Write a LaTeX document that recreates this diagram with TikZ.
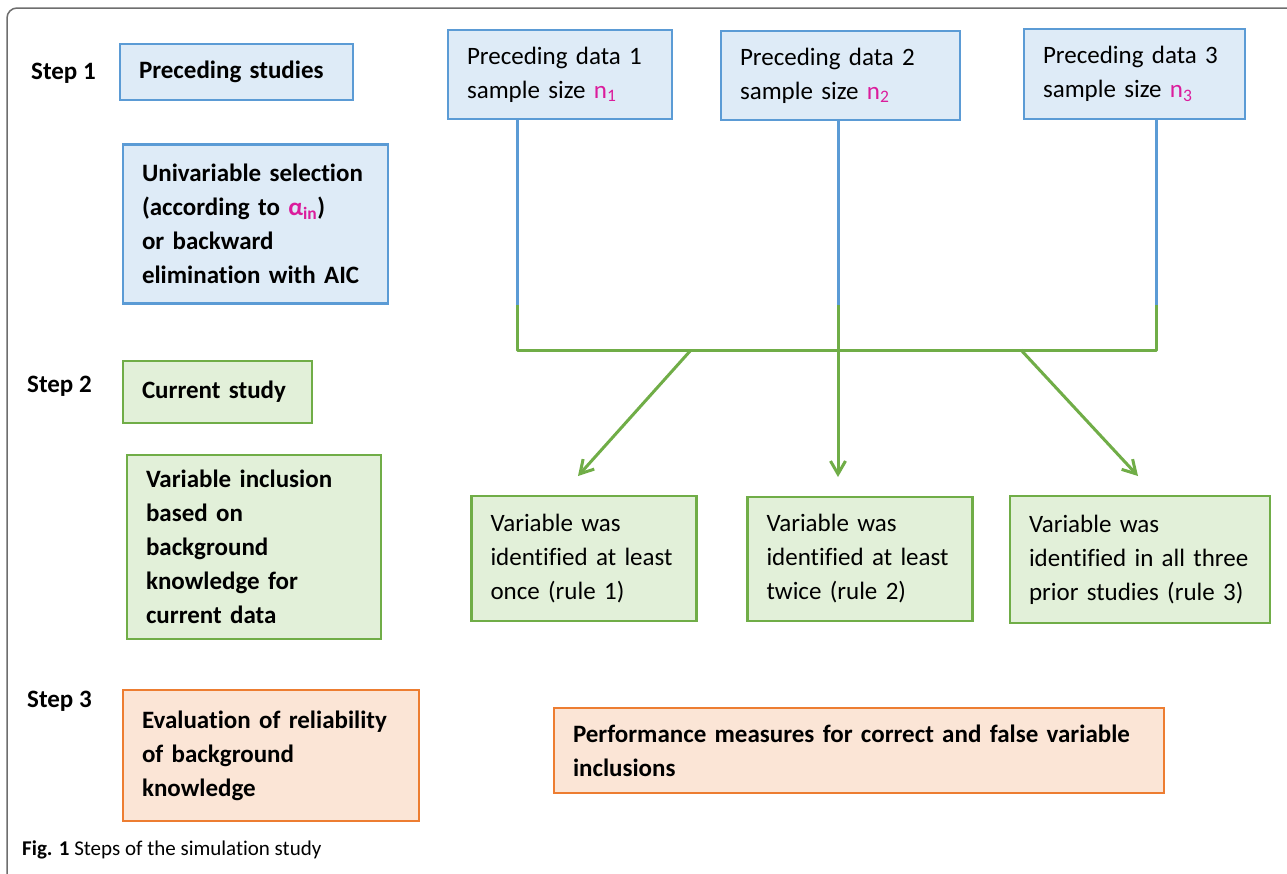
\documentclass[tikz,border=0pt]{standalone}
\usepackage{fontspec}
\setmainfont{Carlito}[Ligatures={NoCommon,NoRare}]
\usetikzlibrary{arrows.meta}
\definecolor{bfill}{HTML}{DEEBF7}
\definecolor{bline}{HTML}{5B9BD5}
\definecolor{gfill}{HTML}{E2F0D9}
\definecolor{gline}{HTML}{70AD47}
\definecolor{ofill}{HTML}{FBE5D6}
\definecolor{oline}{HTML}{ED7D31}
\definecolor{mag}{HTML}{DB1C9C}
\definecolor{framec}{HTML}{6E6E6E}
\newcommand{\mg}[2]{\textcolor{mag}{#1\textsubscript{#2}}}
\begin{document}
\begin{tikzpicture}[x=1pt,y=-1pt,
  every node/.style={inner ysep=0pt},
  boxbase/.style={draw, line width=2.2pt, inner xsep=19pt, align=left,
    font=\fontsize{25}{34}\selectfont},
  bluebox/.style={boxbase, draw=bline, fill=bfill},
  greenbox/.style={boxbase, draw=gline, fill=gfill},
  orangebox/.style={boxbase, draw=oline, fill=ofill},
  boldtxt/.style={font=\fontsize{25}{34}\selectfont\bfseries},
  steplabel/.style={anchor=west, inner sep=0pt, font=\fontsize{25}{28}\selectfont\bfseries},
  bline/.style={draw=bline, line width=3pt},
  gconn/.style={draw=gline, line width=3pt},
  garrow/.style={draw=gline, line width=3pt, -{Straight Barb[length=13pt,width=15pt,line width=3pt]}}
]
\useasboundingbox (0,0) rectangle (1287,873);
\fill[white] (0,0) rectangle (1287,873);
\draw[framec, line width=1.5pt, rounded corners=10pt] (7,8) rectangle (1320,910);

% step labels
\node[steplabel] (s1) at (31,73) {Step 1};
\node[steplabel] (s2) at (27,386) {Step 2};
\node[steplabel] (s3) at (27,701) {Step 3};

% left column
\node[bluebox, boldtxt, minimum width=233pt, minimum height=56pt, text width=195pt] (ps) at (236.5,72) {Preceding studies};
\node[bluebox, boldtxt, minimum width=265pt, minimum height=159pt, text width=227pt] (uni) at (255.5,224)
  {Univariable selection\\(according to \mg{α}{in})\\or backward\\elimination with AIC};
\node[greenbox, boldtxt, minimum width=189pt, minimum height=62pt, text width=151pt] (cur) at (217.5,392) {Current study};
\node[greenbox, boldtxt, minimum width=254pt, minimum height=184pt, text width=216pt] (vinc) at (254,547)
  {Variable inclusion\\based on\\background\\knowledge for\\current data};
\node[orangebox, boldtxt, minimum width=296pt, minimum height=131pt, text width=258pt] (ev) at (271,755.5)
  {Evaluation of reliability\\of background\\knowledge};

% preceding data
\node[bluebox, minimum width=224pt, minimum height=89pt, text width=186pt] (pd1) at (560,74.5)
  {Preceding data 1\\sample size \mg{n}{1}};
\node[bluebox, minimum width=239pt, minimum height=89pt, text width=201pt] (pd2) at (840.5,75.5)
  {Preceding data 2\\sample size \mg{n}{2}};
\node[bluebox, minimum width=221pt, minimum height=90pt, text width=183pt] (pd3) at (1134.5,74)
  {Preceding data 3\\sample size \mg{n}{3}};

% rules
\node[greenbox, minimum width=224pt, minimum height=125pt, text width=187pt] (v1) at (584,558.5)
  {Variable was\\identified at least\\once (rule 1)};
\node[greenbox, minimum width=224pt, minimum height=124pt, text width=187pt] (v2) at (860,559)
  {Variable was\\identified at least\\twice (rule 2)};
\node[greenbox, minimum width=260pt, minimum height=127pt, text width=222pt] (v3) at (1140,559.5)
  {Variable was\\identified in all three\\prior studies (rule 3)};

\node[orangebox, boldtxt, minimum width=610pt, minimum height=85pt, text width=572pt] (perf) at (859,750.5)
  {Performance measures for correct and false variable\\inclusions};

% connectors
\coordinate (m1) at (517,305);
\coordinate (m2) at (838,305);
\coordinate (m3) at (1156,305);
\coordinate (t1) at (517,350);
\coordinate (t2) at (838,350);
\coordinate (t3) at (1156,350);
\coordinate (j1) at (691,350);
\coordinate (j3) at (1021,350);
\coordinate (a1) at (578,476);
\coordinate (a2) at (838,477);
\coordinate (a3) at (1138,476);

\draw[bline] (pd1.south -| m1) -- (m1);
\draw[bline] (pd2.south -| m2) -- (m2);
\draw[bline] (pd3.south -| m3) -- (m3);
\draw[gconn] (m2) -- (t2);
\draw[gconn, line join=round] (m1) -- (t1) -- (t3) -- (m3);
\draw[garrow] (j1) -- (a1);
\draw[garrow] (t2) -- (a2);
\draw[garrow] (j3) -- (a3);

% caption
\node[anchor=west, inner sep=0pt, font=\fontsize{21}{24}\selectfont] (cap) at (22,850)
  {\textbf{Fig. 1} Steps of the simulation study};
\end{tikzpicture}
\end{document}
